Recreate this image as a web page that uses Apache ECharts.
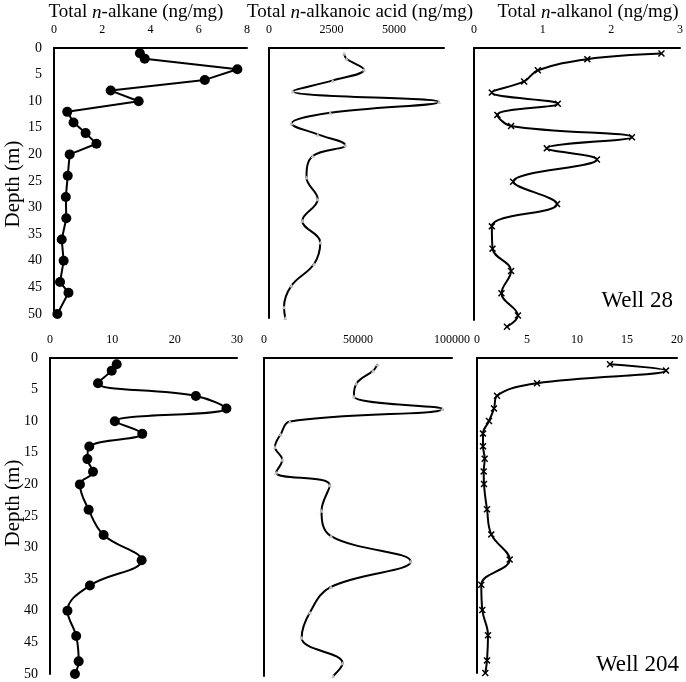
<!DOCTYPE html>
<html>
<head>
<meta charset="utf-8">
<script src="https://cdn.jsdelivr.net/npm/echarts@6/dist/echarts.min.js"></script>
<style>
  html, body { margin: 0; padding: 0; background: #fff; }
  #main { width: 686px; height: 682px; }
</style>
</head>
<body>
<div id="main"></div>
<script>
// depths (m) of the samples
var depthStd = [1, 2, 4, 6, 8, 10, 12, 14, 16, 18, 20, 24, 28, 32, 36, 40, 44, 48, 50];
var depthAlkane28 = [1, 2, 4, 6, 8, 10, 12, 14, 16, 18, 20, 24, 28, 32, 36, 40, 44, 46, 50];

// Well 28
var alkane28 = [3.56, 3.76, 7.6, 6.25, 2.35, 3.51, 0.55, 0.81, 1.31, 1.76, 0.65, 0.57, 0.49, 0.51, 0.32, 0.4, 0.25, 0.6, 0.14];
var acid28 = [3000, 3100, 3800, 2550, 950, 6800, 2450, 900, 1950, 3050, 1750, 1500, 1950, 1330, 2050, 1800, 900, 600, 650];
var alkanol28 = [2.73, 1.65, 0.93, 0.73, 0.26, 1.22, 0.34, 0.54, 2.3, 1.06, 1.79, 0.57, 1.21, 0.26, 0.27, 0.54, 0.4, 0.64, 0.48];

// Well 204
var alkane204 = [10.7, 9.9, 7.7, 23.4, 28.3, 10.4, 14.8, 6.3, 6.0, 6.9, 4.8, 6.2, 8.6, 14.7, 6.4, 2.8, 4.2, 4.6, 4.0];
var acid204 = [60400, 58000, 49200, 47800, 94900, 13800, 8850, 5840, 9700, 6400, 35000, 30600, 35600, 78000, 35600, 24400, 20000, 41800, 36800];
var alkanol204 = [13.3, 18.9, 6.0, 2.0, 1.7, 1.2, 0.6, 0.6, 0.77, 0.67, 0.7, 1.0, 1.43, 3.27, 0.43, 0.53, 1.1, 1.0, 0.83];

// x axis ranges per panel [max, interval]
var xRanges = [[8, 2], [7000, 2500], [3, 1], [30, 10], [100000, 50000], [20, 5]];
var depthMax = [50, 50, 48.8, 50, 50, 50];

var FONT = '"Liberation Serif", "Times New Roman", serif';

var grids = [
  { left: 54, top: 48, width: 193, height: 266 },
  { left: 269, top: 48, width: 175, height: 270 },
  { left: 474, top: 48, width: 206, height: 272 },
  { left: 50, top: 358, width: 187, height: 316 },
  { left: 264, top: 358, width: 188, height: 318 },
  { left: 477, top: 358, width: 200, height: 315 }
];

function pairs(xs, ys) {
  return xs.map(function (v, i) { return [v, ys[i]]; });
}

var crossPath = 'path://M0,1.5L1.5,0L5,3.5L8.5,0L10,1.5L6.5,5L10,8.5L8.5,10L5,6.5L1.5,10L0,8.5L3.5,5Z';

var xAxes = [], yAxes = [];
for (var i = 0; i < 6; i++) {
  var step = xRanges[i][1];
  xAxes.push({
    gridIndex: i, type: 'value', position: 'top',
    min: 0, max: xRanges[i][0], interval: step,
    axisLine: { show: true, onZero: false, lineStyle: { color: '#000', width: 2 } },
    axisTick: { show: false },
    splitLine: { show: false },
    axisLabel: {
      color: '#000', fontFamily: FONT, fontSize: 12, margin: 12,
      formatter: (function (s) { return function (v) { return v % s === 0 ? v : ''; }; })(step)
    }
  });
  yAxes.push({
    gridIndex: i, type: 'value', inverse: true,
    min: 0, max: depthMax[i], interval: 5,
    axisLine: { show: true, onZero: false, lineStyle: { color: '#000', width: 2 } },
    axisTick: { show: false },
    splitLine: { show: false },
    axisLabel: {
      show: i === 0 || i === 3,
      color: '#000', fontFamily: FONT, fontSize: 14, margin: 12,
      formatter: function (v) { return v % 5 === 0 ? v : ''; }
    }
  });
}

function alkaneSeries(idx, data, depths, smooth) {
  return {
    type: 'line', xAxisIndex: idx, yAxisIndex: idx,
    data: pairs(data, depths), smooth: smooth, clip: false,
    symbol: 'circle', symbolSize: 10,
    itemStyle: { color: '#000' },
    lineStyle: { color: '#000', width: 2 }
  };
}
function acidSeries(idx, data) {
  return {
    type: 'line', xAxisIndex: idx, yAxisIndex: idx,
    data: pairs(data, depthStd), smooth: 0.4, clip: false,
    symbol: 'triangle', symbolSize: 4,
    itemStyle: { color: '#c0c0c0' },
    lineStyle: { color: '#000', width: 2 }
  };
}
function alkanolSeries(idx, data) {
  return {
    type: 'line', xAxisIndex: idx, yAxisIndex: idx,
    data: pairs(data, depthStd), smooth: 0.4, clip: false,
    symbol: crossPath, symbolSize: 7,
    itemStyle: { color: '#000' },
    lineStyle: { color: '#000', width: 2 }
  };
}

var titleStyle = {
  color: '#000', fontFamily: FONT, fontSize: 19, fontWeight: 'normal',
  rich: { i: { fontStyle: 'italic', fontFamily: FONT, fontSize: 19, color: '#000' } }
};

var option = {
  animation: false,
  backgroundColor: '#fff',
  title: [
    { text: 'Total {i|n}-alkane (ng/mg)', left: 136, top: 3, textAlign: 'center', padding: 0, textStyle: titleStyle },
    { text: 'Total {i|n}-alkanoic acid (ng/mg)', left: 360, top: 3, textAlign: 'center', padding: 0, textStyle: titleStyle },
    { text: 'Total {i|n}-alkanol (ng/mg)', left: 588, top: 3, textAlign: 'center', padding: 0, textStyle: titleStyle }
  ],
  grid: grids,
  xAxis: xAxes,
  yAxis: yAxes,
  series: [
    alkaneSeries(0, alkane28, depthAlkane28, false),
    acidSeries(1, acid28),
    alkanolSeries(2, alkanol28),
    alkaneSeries(3, alkane204, depthStd, 0.4),
    acidSeries(4, acid204),
    alkanolSeries(5, alkanol204)
  ],
  graphic: [
    { type: 'text', x: 13, y: 184, rotation: Math.PI / 2,
      style: { text: 'Depth (m)', font: '21px ' + FONT, fill: '#000', textAlign: 'center', textVerticalAlign: 'middle' } },
    { type: 'text', x: 13, y: 503, rotation: Math.PI / 2,
      style: { text: 'Depth (m)', font: '21px ' + FONT, fill: '#000', textAlign: 'center', textVerticalAlign: 'middle' } },
    { type: 'text', x: 673, y: 301,
      style: { text: 'Well 28', font: '23px ' + FONT, fill: '#000', textAlign: 'right', textVerticalAlign: 'middle' } },
    { type: 'text', x: 679, y: 665,
      style: { text: 'Well 204', font: '23px ' + FONT, fill: '#000', textAlign: 'right', textVerticalAlign: 'middle' } }
  ]
};

var myChart = echarts.init(document.getElementById('main'));
myChart.setOption(option);
</script>
</body>
</html>
